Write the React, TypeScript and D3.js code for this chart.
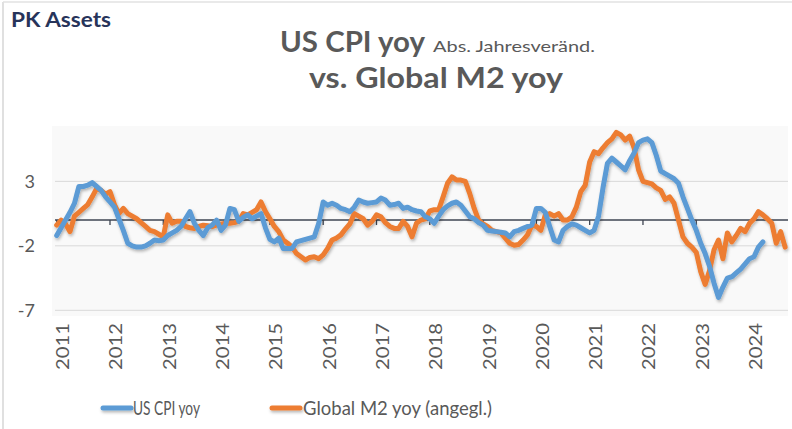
import React from "react";
import * as d3 from "d3";

// Monthly data starting Jan 2011 (month index 0)
const startYear = 2011;
const yearLabels = ["2011","2012","2013","2014","2015","2016","2017","2018","2019","2020","2021","2022","2023","2024"];
const yTicks = [3, -2, -7];

// US CPI yoy – absolute yearly change (pp), Jan 2011 .. Apr 2024
const cpiValues = [
  -1.2, -0.6, 0.0, 0.6, 1.3, 2.6, 2.6, 2.7, 2.9, 2.6, 2.3, 1.8,
  1.4, 1.0, 0.1, -0.8, -1.8, -2.0, -2.1, -2.1, -2.0, -1.8, -1.55, -1.6,
  -1.55, -1.2, -1.0, -0.8, -0.5, 0.1, 0.65, -0.25, -0.8, -1.2, -0.6, -0.4,
  0.0, -0.8, -0.4, 0.9, 0.8, -0.1, 0.2, 0.4, 0.1, 0.3, 0.5, -0.6,
  -1.5, -1.7, -1.4, -2.2, -2.2, -2.2, -1.7, -1.6, -1.5, -1.4, -1.3, -0.25,
  1.4, 1.15, 1.3, 1.15, 0.9, 0.8, 0.65, 1.0, 1.55, 1.4, 1.3, 1.35,
  1.4, 1.7, 1.55, 1.15, 1.2, 1.3, 0.9, 1.0, 0.8, 0.7, 0.65, 0.25,
  0.1, -0.25, 0.3, 0.8, 1.1, 1.3, 1.4, 1.15, 0.7, 0.25, 0.1, -0.2,
  -0.4, -0.8, -0.85, -0.9, -0.95, -1.0, -1.3, -0.9, -0.8, -0.65, -0.5, -0.4,
  0.9, 0.9, 0.6, -0.5, -1.55, -1.7, -0.8, -0.5, -0.3, -0.4, -0.6, -0.8,
  -1.0, -0.8, 0.3, 2.5, 4.4, 4.8, 4.5, 4.2, 3.9, 4.6, 5.2, 6.0,
  6.2, 6.3, 6.0, 5.0, 3.8, 3.6, 3.4, 3.2, 2.85, 1.8, 0.9, 0.0,
  -0.8, -1.8, -2.6, -3.6, -4.9, -6.0, -5.2, -4.5, -4.4, -4.1, -3.8, -3.4,
  -3.0, -2.85, -2.1, -1.7,
];

// Global M2 yoy (angegl.) – Jan 2011 .. Sep 2024
const m2Values = [
  -0.4, 0.0, -0.3, -0.9, 0.3, 0.6, 0.9, 1.2, 1.8, 2.45, 2.3, 2.0,
  2.2, 1.2, 0.5, 0.9, 0.5, 0.3, 0.1, -0.2, -0.5, -0.8, -0.9, -1.1,
  -1.3, 0.4, -0.25, -0.1, -0.1, -0.5, -0.6, -0.65, -0.5, -0.4, -0.45, -0.5,
  -0.4, -0.3, -0.25, -0.25, -0.2, -0.1, 0.5, 0.4, 0.6, 0.8, 1.4, 0.65,
  0.1, -0.5, -0.9, -1.55, -1.8, -2.1, -2.6, -2.85, -3.1, -2.9, -2.85, -3.0,
  -2.7, -2.2, -1.55, -1.4, -1.15, -0.7, -0.3, 0.5, 0.3, 0.1, -0.4, -0.1,
  0.4, 0.25, -0.2, -0.5, -0.65, -0.65, -0.1, -0.5, -1.3, -0.25, 0.0, 0.1,
  0.7, 0.8, 0.8, 1.8, 2.85, 3.35, 3.1, 3.1, 3.0, 2.05, 0.9, 0.0,
  -0.3, -0.5, -0.8, -0.9, -1.0, -1.4, -1.8, -1.95, -1.9, -1.55, -1.15, -0.4,
  -0.5, -0.8, 0.4, 0.5, 0.3, 0.5, 0.0, 0.0, 0.25, 1.0, 2.2, 2.7,
  4.5, 5.3, 5.15, 5.6, 6.0, 6.3, 6.8, 6.6, 6.2, 6.5, 5.6, 3.9,
  3.0, 2.9, 2.8, 2.5, 2.3, 1.6, 1.8, 1.3, 0.0, -1.3, -1.8, -2.1,
  -2.5, -4.0, -5.0, -3.9, -2.3, -1.55, -3.0, -1.0, -1.7, -1.2, -0.65, -0.9,
  -0.25, 0.1, 0.65, 0.4, 0.1, -0.25, -1.8, -0.9, -2.1,
];

const seriesNames = ["US CPI yoy", "Global M2 yoy (angegl.)"];
const colors = ["#5b9bd5", "#ed7d31"];

const W = 792;
const H = 429;

export default function App() {
  const x = d3.scaleLinear().domain([0, 164]).range([56.7, 785.1]);
  const y = d3.scaleLinear().domain([-7, 7.3]).range([310.3, 125.9]);
  const line = d3
    .line<number>()
    .x((_, i) => x(i))
    .y((d) => y(d))
    .curve(d3.curveLinear);
  const font = "Lato, 'Open Sans', sans-serif";
  const txt = "#595959";
  const plotL = 52;
  const plotR = 788;

  return (
    <svg
      width={W}
      height={H}
      style={{ position: "absolute", left: 0, top: 0, background: "#fff" }}
    >
      <defs>
        <filter id="sh" filterUnits="userSpaceOnUse" x={0} y={0} width={W} height={H}>
          <feDropShadow dx="1" dy="2" stdDeviation="1.4" floodColor="#000" floodOpacity="0.28" />
        </filter>
      </defs>
      <rect x={0} y={0} width={W} height={H} fill="#fff" />
      <line x1={3} x2={3} y1={2} y2={H} stroke="#d6d6d6" strokeWidth={1.5} />
      <line x1={3} x2={W} y1={2} y2={2} stroke="#e2e2e2" strokeWidth={1.5} />
      <rect x={plotL} y={126} width={plotR - plotL} height={190} fill="#f9f9f9" />

      <text x={11} y={26.5} fontFamily={font} fontWeight={700} fontSize={20} fill="#27345a" textLength={100} lengthAdjust="spacingAndGlyphs">
        PK Assets
      </text>

      <text x={280} y={51.5} fontFamily={font} fontWeight={700} fontSize={28} fill={txt} textLength={145} lengthAdjust="spacingAndGlyphs">
        US CPI yoy
      </text>
      <text x={433} y={51.5} fontFamily={font} fontSize={16} fill={txt} textLength={162} lengthAdjust="spacingAndGlyphs">
        Abs. Jahresveränd.
      </text>
      <text x={309} y={88} fontFamily={font} fontWeight={700} fontSize={29} fill={txt} textLength={254} lengthAdjust="spacingAndGlyphs">
        vs. Global M2 yoy
      </text>

      {yTicks.map((t) => (
        <g key={t}>
          <line x1={plotL + 3} x2={plotR} y1={y(t)} y2={y(t)} stroke="#d9d9d9" strokeWidth={1} />
          <text x={35} y={y(t) + 6.5} textAnchor="end" fontFamily={font} fontSize={18} fill={txt}>
            {t}
          </text>
        </g>
      ))}

      <line x1={plotL + 3} x2={plotR} y1={y(0)} y2={y(0)} stroke="#3e4552" strokeWidth={1.5} />
      {yearLabels.map((lab, i) => {
        const xx = x(i * 12);
        return (
          <g key={lab}>
            <line x1={xx} x2={xx} y1={y(0)} y2={y(0) + 5} stroke="#3e4552" strokeWidth={1.3} />
            <text
              transform={`translate(${xx + 12.5},${323}) rotate(-90)`}
              textAnchor="end"
              fontFamily={font}
              fontSize={18}
              fill={txt}
              textLength={47}
              lengthAdjust="spacingAndGlyphs"
            >
              {lab}
            </text>
          </g>
        );
      })}

      <g filter="url(#sh)">
        <path d={line(m2Values) || ""} fill="none" stroke={colors[1]} strokeWidth={5} strokeLinejoin="round" strokeLinecap="round" />
        <path d={line(cpiValues) || ""} fill="none" stroke={colors[0]} strokeWidth={5} strokeLinejoin="round" strokeLinecap="round" />
      </g>

      <g filter="url(#sh)">
        <line x1={103} x2={131} y1={408} y2={408} stroke={colors[0]} strokeWidth={5} strokeLinecap="round" />
        <line x1={272} x2={300} y1={408} y2={408} stroke={colors[1]} strokeWidth={5} strokeLinecap="round" />
      </g>
      <text x={133} y={415} fontFamily={font} fontSize={20} fill={txt} textLength={67} lengthAdjust="spacingAndGlyphs">
        {seriesNames[0]}
      </text>
      <text x={303} y={415} fontFamily={font} fontSize={20} fill={txt} textLength={189} lengthAdjust="spacingAndGlyphs">
        {seriesNames[1]}
      </text>
    </svg>
  );
}
